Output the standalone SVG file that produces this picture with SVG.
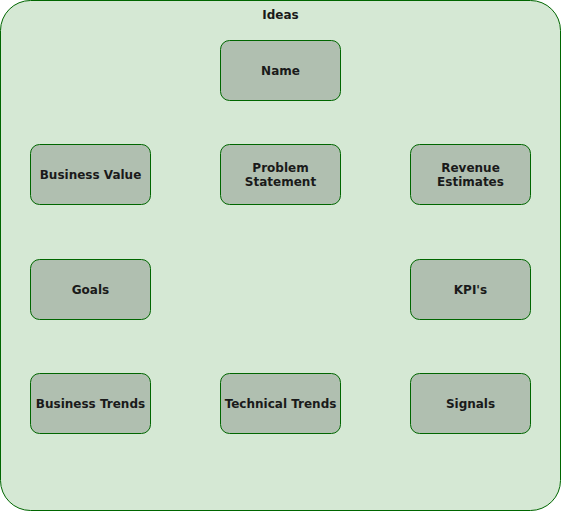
<svg xmlns="http://www.w3.org/2000/svg" width="561" height="511" viewBox="0 0 561 511">
<style>
.node rect{fill:#b0bfb0;stroke:#006600;stroke-width:1}
text{font-family:"DejaVu Sans",Verdana,sans-serif;font-weight:bold;font-size:12px;fill:#1a1a1a;text-anchor:middle}
</style>
<g id="container">
<rect x="0.5" y="0.5" width="560" height="510" rx="30" ry="30" fill="#d5e8d4" stroke="#006600"/>
<text x="280.5" y="19">Ideas</text>
</g>
<g id="connectors"/>
<g id="name" class="node"><rect x="220.5" y="40.5" width="120" height="60" rx="9"/><text x="280.5" y="75">Name</text></g>
<g id="business-value" class="node"><rect x="30.5" y="144.5" width="120" height="60" rx="9"/><text x="90.5" y="179">Business Value</text></g>
<g id="problem-statement" class="node"><rect x="220.5" y="144.5" width="120" height="60" rx="9"/><text x="280.5" y="172">Problem</text><text x="280.5" y="186">Statement</text></g>
<g id="revenue-estimates" class="node"><rect x="410.5" y="144.5" width="120" height="60" rx="9"/><text x="470.5" y="172">Revenue</text><text x="470.5" y="186">Estimates</text></g>
<g id="goals" class="node"><rect x="30.5" y="259.5" width="120" height="60" rx="9"/><text x="90.5" y="294">Goals</text></g>
<g id="kpis" class="node"><rect x="410.5" y="259.5" width="120" height="60" rx="9"/><text x="470.5" y="294">KPI's</text></g>
<g id="business-trends" class="node"><rect x="30.5" y="373.5" width="120" height="60" rx="9"/><text x="90.5" y="408">Business Trends</text></g>
<g id="technical-trends" class="node"><rect x="220.5" y="373.5" width="120" height="60" rx="9"/><text x="280.5" y="408">Technical Trends</text></g>
<g id="signals" class="node"><rect x="410.5" y="373.5" width="120" height="60" rx="9"/><text x="470.5" y="408">Signals</text></g>
</svg>
